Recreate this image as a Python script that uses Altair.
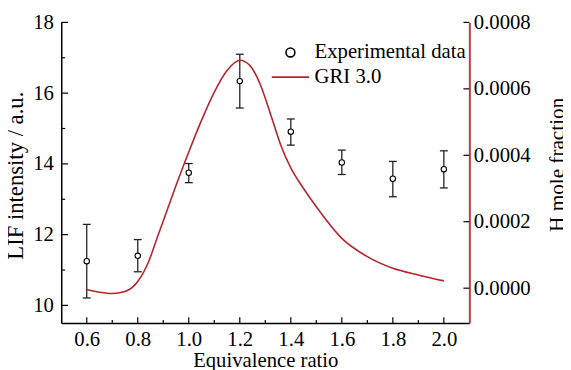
import altair as alt
import pandas as pd

# ---- data ----
phi_exp = [0.6, 0.8, 1.0, 1.2, 1.4, 1.6, 1.8, 2.0]
lif_mean = [11.25, 11.40, 13.75, 16.34, 14.91, 14.04, 13.58, 13.85]
lif_low = [10.21, 10.95, 13.47, 15.58, 14.53, 13.70, 13.07, 13.32]
lif_high = [12.29, 11.86, 14.01, 17.10, 15.27, 14.39, 14.07, 14.37]

phi_gri = [0.60, 0.65, 0.70, 0.75, 0.80, 0.84, 0.88, 0.92, 0.96, 1.00,
           1.05, 1.10, 1.15, 1.20, 1.24, 1.28, 1.32, 1.36, 1.40, 1.45,
           1.50, 1.60, 1.70, 1.80, 1.90, 2.00]
h_frac = [-0.000004, -0.000012, -0.000016, -0.000010, 0.000020, 0.000075,
          0.000160, 0.000245, 0.000330, 0.000410, 0.000505, 0.000590,
          0.000655, 0.000686, 0.000670, 0.000614, 0.000525, 0.000432,
          0.000362, 0.000300, 0.000245, 0.000150, 0.000095, 0.000060,
          0.000040, 0.000022]

series_names = ["Experimental data", "GRI 3.0"]

x_major = [0.6, 0.8, 1.0, 1.2, 1.4, 1.6, 1.8, 2.0]
x_minor = [0.7, 0.9, 1.1, 1.3, 1.5, 1.7, 1.9]
yl_major = [10, 12, 14, 16, 18]
yl_minor = [11, 13, 15, 17]
yr_major = [0.0, 0.0002, 0.0004, 0.0006, 0.0008]

# ---- styling ----
FONT = "Liberation Serif, Times New Roman, serif"
RED = "#b5252b"
AXRED = "#c0393e"
INK = "#222222"
W, H = 414, 305

exp_df = pd.DataFrame({"phi": phi_exp, "lif": lif_mean, "lo": lif_low,
                       "hi": lif_high, "series": series_names[0]})
gri_df = pd.DataFrame({"phi": phi_gri, "h": h_frac})
xmaj_df = pd.DataFrame({"t": x_major})
xmin_df = pd.DataFrame({"t": x_minor})
ylmaj_df = pd.DataFrame({"t": yl_major})
ylmin_df = pd.DataFrame({"t": yl_minor})
yrmaj_df = pd.DataFrame({"t": yr_major})

xscale = alt.Scale(domain=[0.5, 2.1], nice=False, zero=False)
ylscale = alt.Scale(domain=[9.5, 18], nice=False, zero=False)
yrscale = alt.Scale(domain=[-0.000105, 0.0008], nice=False, zero=False)

xaxis = alt.Axis(values=x_major, format=".1f", ticks=False, grid=False,
                 domainColor="black", domainWidth=1.5,
                 labelFont=FONT, labelFontSize=21, labelColor="black",
                 labelPadding=6, title="Equivalence ratio", titleFont=FONT,
                 titleFontSize=21, titleFontWeight=400, titleColor="black",
                 titlePadding=0)
ylaxis = alt.Axis(values=yl_major, format="d", ticks=False, grid=False,
                  domainColor="black", domainWidth=1.5,
                  labelFont=FONT, labelFontSize=21, labelColor="black",
                  labelPadding=8, title="LIF intensity / a.u.", titleFont=FONT,
                  titleFontSize=23, titleFontWeight=400, titleColor="black",
                  titlePadding=5, titleY=155)
yraxis = alt.Axis(orient="right", values=yr_major, format=".4f", ticks=False,
                  grid=False, domainColor=AXRED, domainWidth=2,
                  labelFont=FONT, labelFontSize=21, labelColor="black",
                  labelPadding=4, title="H mole fraction", titleFont=FONT,
                  titleFontSize=21.5, titleFontWeight=400, titleColor="black",
                  titleAngle=270, titleBaseline="top", titlePadding=17,
                  titleY=144)


def X(field):
    return alt.X(field, type="quantitative", scale=xscale, axis=xaxis)


def YL(field):
    return alt.Y(field, type="quantitative", scale=ylscale, axis=ylaxis)


def YR(field):
    return alt.Y(field, type="quantitative", scale=yrscale, axis=yraxis)


base = alt.Chart(exp_df)
err = base.mark_rule(color=INK, strokeWidth=1.3).encode(
    x=X("phi"), y=YL("lo"), y2="hi")
cap_lo = base.mark_rule(color=INK, strokeWidth=1.3, xOffset=-4, x2Offset=4).encode(
    x=X("phi"), x2="phi", y=YL("lo"))
cap_hi = base.mark_rule(color=INK, strokeWidth=1.3, xOffset=-4, x2Offset=4).encode(
    x=X("phi"), x2="phi", y=YL("hi"))

legend = alt.Legend(title=None, orient="none", legendX=222, legendY=20,
                    labelFont=FONT, labelFontSize=21, labelFontWeight=400,
                    labelColor="black",
                    symbolSize=81, symbolStrokeWidth=1.6, labelOffset=14,
                    rowPadding=3, padding=0)
points = base.mark_point(filled=False, fill="white", size=30, strokeWidth=1.1,
                         opacity=1).encode(
    x=X("phi"), y=YL("lif"),
    color=alt.Color("series:N", scale=alt.Scale(domain=series_names,
                                                range=["black", RED]),
                    legend=legend),
    shape=alt.Shape("series:N", scale=alt.Scale(domain=series_names,
                                                range=["circle", "M-4.2,0L4.2,0"]),
                    legend=legend),
)

xt_major = alt.Chart(xmaj_df).mark_rule(color="black", strokeWidth=1.2).encode(
    x=X("t"), y=alt.value(H - 6), y2=alt.value(H))
xt_minor = alt.Chart(xmin_df).mark_rule(color="black", strokeWidth=1.2).encode(
    x=X("t"), y=alt.value(H - 3), y2=alt.value(H))
yl_tmaj = alt.Chart(ylmaj_df).mark_rule(color="black", strokeWidth=1.2).encode(
    y=YL("t"), x=alt.value(0), x2=alt.value(7))
yl_tmin = alt.Chart(ylmin_df).mark_rule(color="black", strokeWidth=1.2).encode(
    y=YL("t"), x=alt.value(0), x2=alt.value(4))

left = alt.layer(err, cap_lo, cap_hi, points, xt_major, xt_minor, yl_tmaj, yl_tmin)

line = alt.Chart(gri_df).mark_line(color=RED, strokeWidth=1.6,
                                   interpolate="monotone").encode(
    x=X("phi"), y=YR("h"))
yr_t = alt.Chart(yrmaj_df).mark_rule(color="black", strokeWidth=1.2).encode(
    y=YR("t"), x=alt.value(W - 6), x2=alt.value(W))

right = alt.layer(line, yr_t)

chart = alt.layer(left, right).resolve_scale(y="independent").properties(
    width=W, height=H, autosize="none",
    padding={"left": 54, "top": 12, "right": 95, "bottom": 45},
    background="white",
).configure(font=FONT).configure_axis(
    labelFont=FONT, titleFont=FONT
).configure_legend(labelFont=FONT).configure_view(stroke=None)

chart.save("out.html", embed_options={"renderer": "svg", "actions": False})
